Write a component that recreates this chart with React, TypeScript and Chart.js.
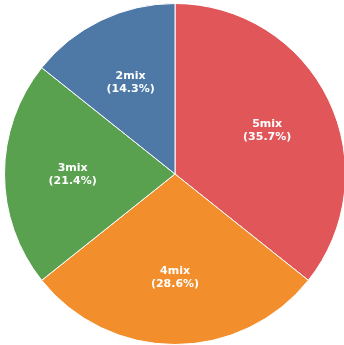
import React, { useEffect, useRef } from "react";
import { Chart, registerables } from "chart.js";

Chart.register(...registerables);

const categories = ["5mix", "4mix", "3mix", "2mix"];
const values = [5, 4, 3, 2];
const colors = ["#e15759", "#f28e2b", "#59a14f", "#4e79a7"];

const labelPlugin = {
  id: "sliceLabels",
  afterDatasetsDraw(chart: any) {
    const ctx = chart.ctx;
    const meta = chart.getDatasetMeta(0);
    const data = chart.data.datasets[0].data as number[];
    const total = data.reduce((a, b) => a + b, 0);
    ctx.save();
    ctx.fillStyle = "#ffffff";
    ctx.font = "bold 11px 'DejaVu Sans'";
    ctx.textAlign = "center";
    ctx.textBaseline = "middle";
    meta.data.forEach((arc: any, i: number) => {
      const p = arc.getProps(["x", "y", "startAngle", "endAngle", "outerRadius"], true);
      const mid = (p.startAngle + p.endAngle) / 2;
      const r = p.outerRadius * 0.6;
      const x = p.x + Math.cos(mid) * r;
      const y = p.y + Math.sin(mid) * r + 1;
      const pct = ((data[i] / total) * 100).toFixed(1);
      ctx.fillText(chart.data.labels[i], x, y - 6.5);
      ctx.fillText("(" + pct + "%)", x, y + 6.5);
    });
    ctx.restore();
  },
};

export default function App() {
  const ref = useRef<HTMLCanvasElement>(null);
  useEffect(() => {
    if (!ref.current) return;
    const chart = new Chart(ref.current, {
      type: "pie",
      data: {
        labels: categories,
        datasets: [
          {
            data: values,
            backgroundColor: colors,
            borderColor: "#ffffff",
            borderWidth: 1,
          },
        ],
      },
      options: {
        animation: false,
        responsive: false,
        maintainAspectRatio: false,
        layout: { padding: 0 },
        plugins: { legend: { display: false }, tooltip: { enabled: false } },
      },
      plugins: [labelPlugin],
    });
    return () => chart.destroy();
  }, []);
  return (
    <div style={{ position: "fixed", left: 0, top: 0, width: 344, height: 345, overflow: "hidden", background: "#fff" }}>
      <canvas ref={ref} width={342} height={342} style={{ position: "absolute", left: 4, top: 3, width: 342, height: 342 }} />
    </div>
  );
}
